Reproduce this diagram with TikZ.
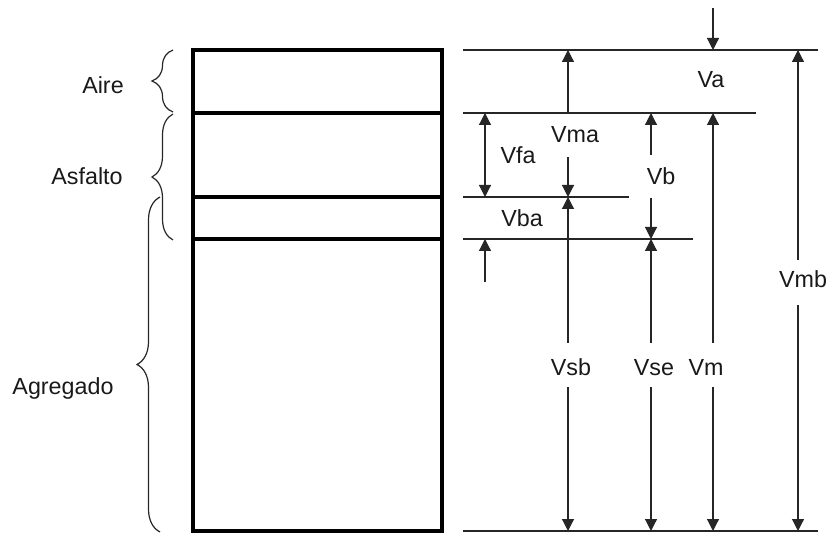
\documentclass[tikz,border=0pt]{standalone}
\usepackage{fontspec}
\setmainfont{Liberation Sans}
\usetikzlibrary{arrows.meta, decorations.pathreplacing}
\tikzset{
	dim/.style={-{Triangle[width=12pt,length=12pt]}, line width=1.2pt, black!85}, % one-sided dimension arrow
	dimboth/.style={{Triangle[width=12pt,length=12pt]}-{Triangle[width=12pt,length=12pt]}, line width=1.2pt, black!85}, % two-sided
	level/.style={line width=1.2pt, black!85}, % thin level lines on the right
	layer/.style={line width=4pt}, % the sample column
	lbl/.style={font=\fontsize{23.3}{27}\selectfont, anchor=base, inner sep=0pt, text=black!90}, % all texts
	phase/.style={decorate, decoration={brace, amplitude=#1}, line width=1.2pt, black!85}, % braces on the left
}

\begin{document}
\begin{tikzpicture}[x=1pt, y=-1pt]
		\useasboundingbox (0,0) rectangle (827,534);
		% Sample column
		\draw[layer] (193,50) rectangle (442,531);
		\draw[layer] (193,113) -- (442,113);
		\draw[layer] (193,197) -- (442,197);
		\draw[layer] (193,239) -- (442,239);
		
		% Braces and phase names
		\draw[phase=21pt] (173,112) -- (173,50);
		\draw[phase=21pt] (173,240) -- (173,114);
		\draw[phase=23pt] (160,532) -- (160,197);
		\node[lbl] (aire) at (103,94) {Aire};
		\node[lbl] (asfalto) at (87,185) {Asfalto};
		\node[lbl] (agregado) at (63,395) {Agregado};
		
		% Level lines
		\draw[level] (463,50) -- (818,50);
		\draw[level] (463,113) -- (756,113);
		\draw[level] (463,197) -- (629,197);
		\draw[level] (463,239) -- (693,239);
		\draw[level] (463,531) -- (818,531);
		
		% Volume labels
		\node[lbl] (va) at (711,88) {Va};
		\node[lbl] (vma) at (575,143) {Vma};
		\node[lbl] (vfa) at (518,164) {Vfa};
		\node[lbl] (vb) at (661,185) {Vb};
		\node[lbl] (vba) at (522,227) {Vba};
		\node[lbl] (vmb) at (803,288) {Vmb};
		\node[lbl] (vsb) at (571,375) {Vsb};
		\node[lbl] (vse) at (654,375) {Vse};
		\node[lbl] (vm) at (706,375) {Vm};
		
		% Arrow ends
		\coordinate (vaS) at (713,8);
		\coordinate (vaE) at (713,50);
		\coordinate (vmaS) at (568,113);
		\coordinate (vmaE) at (568,50);
		\coordinate (vmaD) at (568,157);
		\coordinate (vmaF) at (568,197);
		\coordinate (vfaT) at (485,113);
		\coordinate (vfaB) at (485,197);
		\coordinate (vbaS) at (485,282);
		\coordinate (vbaE) at (485,239);
		\coordinate (vbU) at (651,155);
		\coordinate (vbT) at (651,113);
		\coordinate (vbD) at (651,198);
		\coordinate (vbB) at (651,239);
		\coordinate (vsbU) at (568,343);
		\coordinate (vsbD) at (568,387);
		\coordinate (vsbB) at (568,531);
		\coordinate (vseU) at (651,343);
		\coordinate (vseD) at (651,387);
		\coordinate (vseB) at (651,531);
		\coordinate (vmU) at (713,343);
		\coordinate (vmT) at (713,113);
		\coordinate (vmD) at (713,387);
		\coordinate (vmB) at (713,531);
		\coordinate (vmbU) at (798,260);
		\coordinate (vmbT) at (798,50);
		\coordinate (vmbD) at (798,305);
		\coordinate (vmbB) at (798,531);
		
		% Dimension arrows
		\draw[dim] (vaS) -- (vaE);
		\draw[dim] (vmaS) -- (vmaE);
		\draw[dim] (vmaD) -- (vmaF);
		\draw[dimboth] (vfaT) -- (vfaB);
		\draw[dim] (vbaS) -- (vbaE);
		\draw[dim] (vbU) -- (vbT);
		\draw[dim] (vbD) -- (vbB);
		\draw[dim] (vsbU) -- (vmaF);
		\draw[dim] (vsbD) -- (vsbB);
		\draw[dim] (vseU) -- (vbB);
		\draw[dim] (vseD) -- (vseB);
		\draw[dim] (vmU) -- (vmT);
		\draw[dim] (vmD) -- (vmB);
		\draw[dim] (vmbU) -- (vmbT);
		\draw[dim] (vmbD) -- (vmbB);
	\end{tikzpicture}
\end{document}
